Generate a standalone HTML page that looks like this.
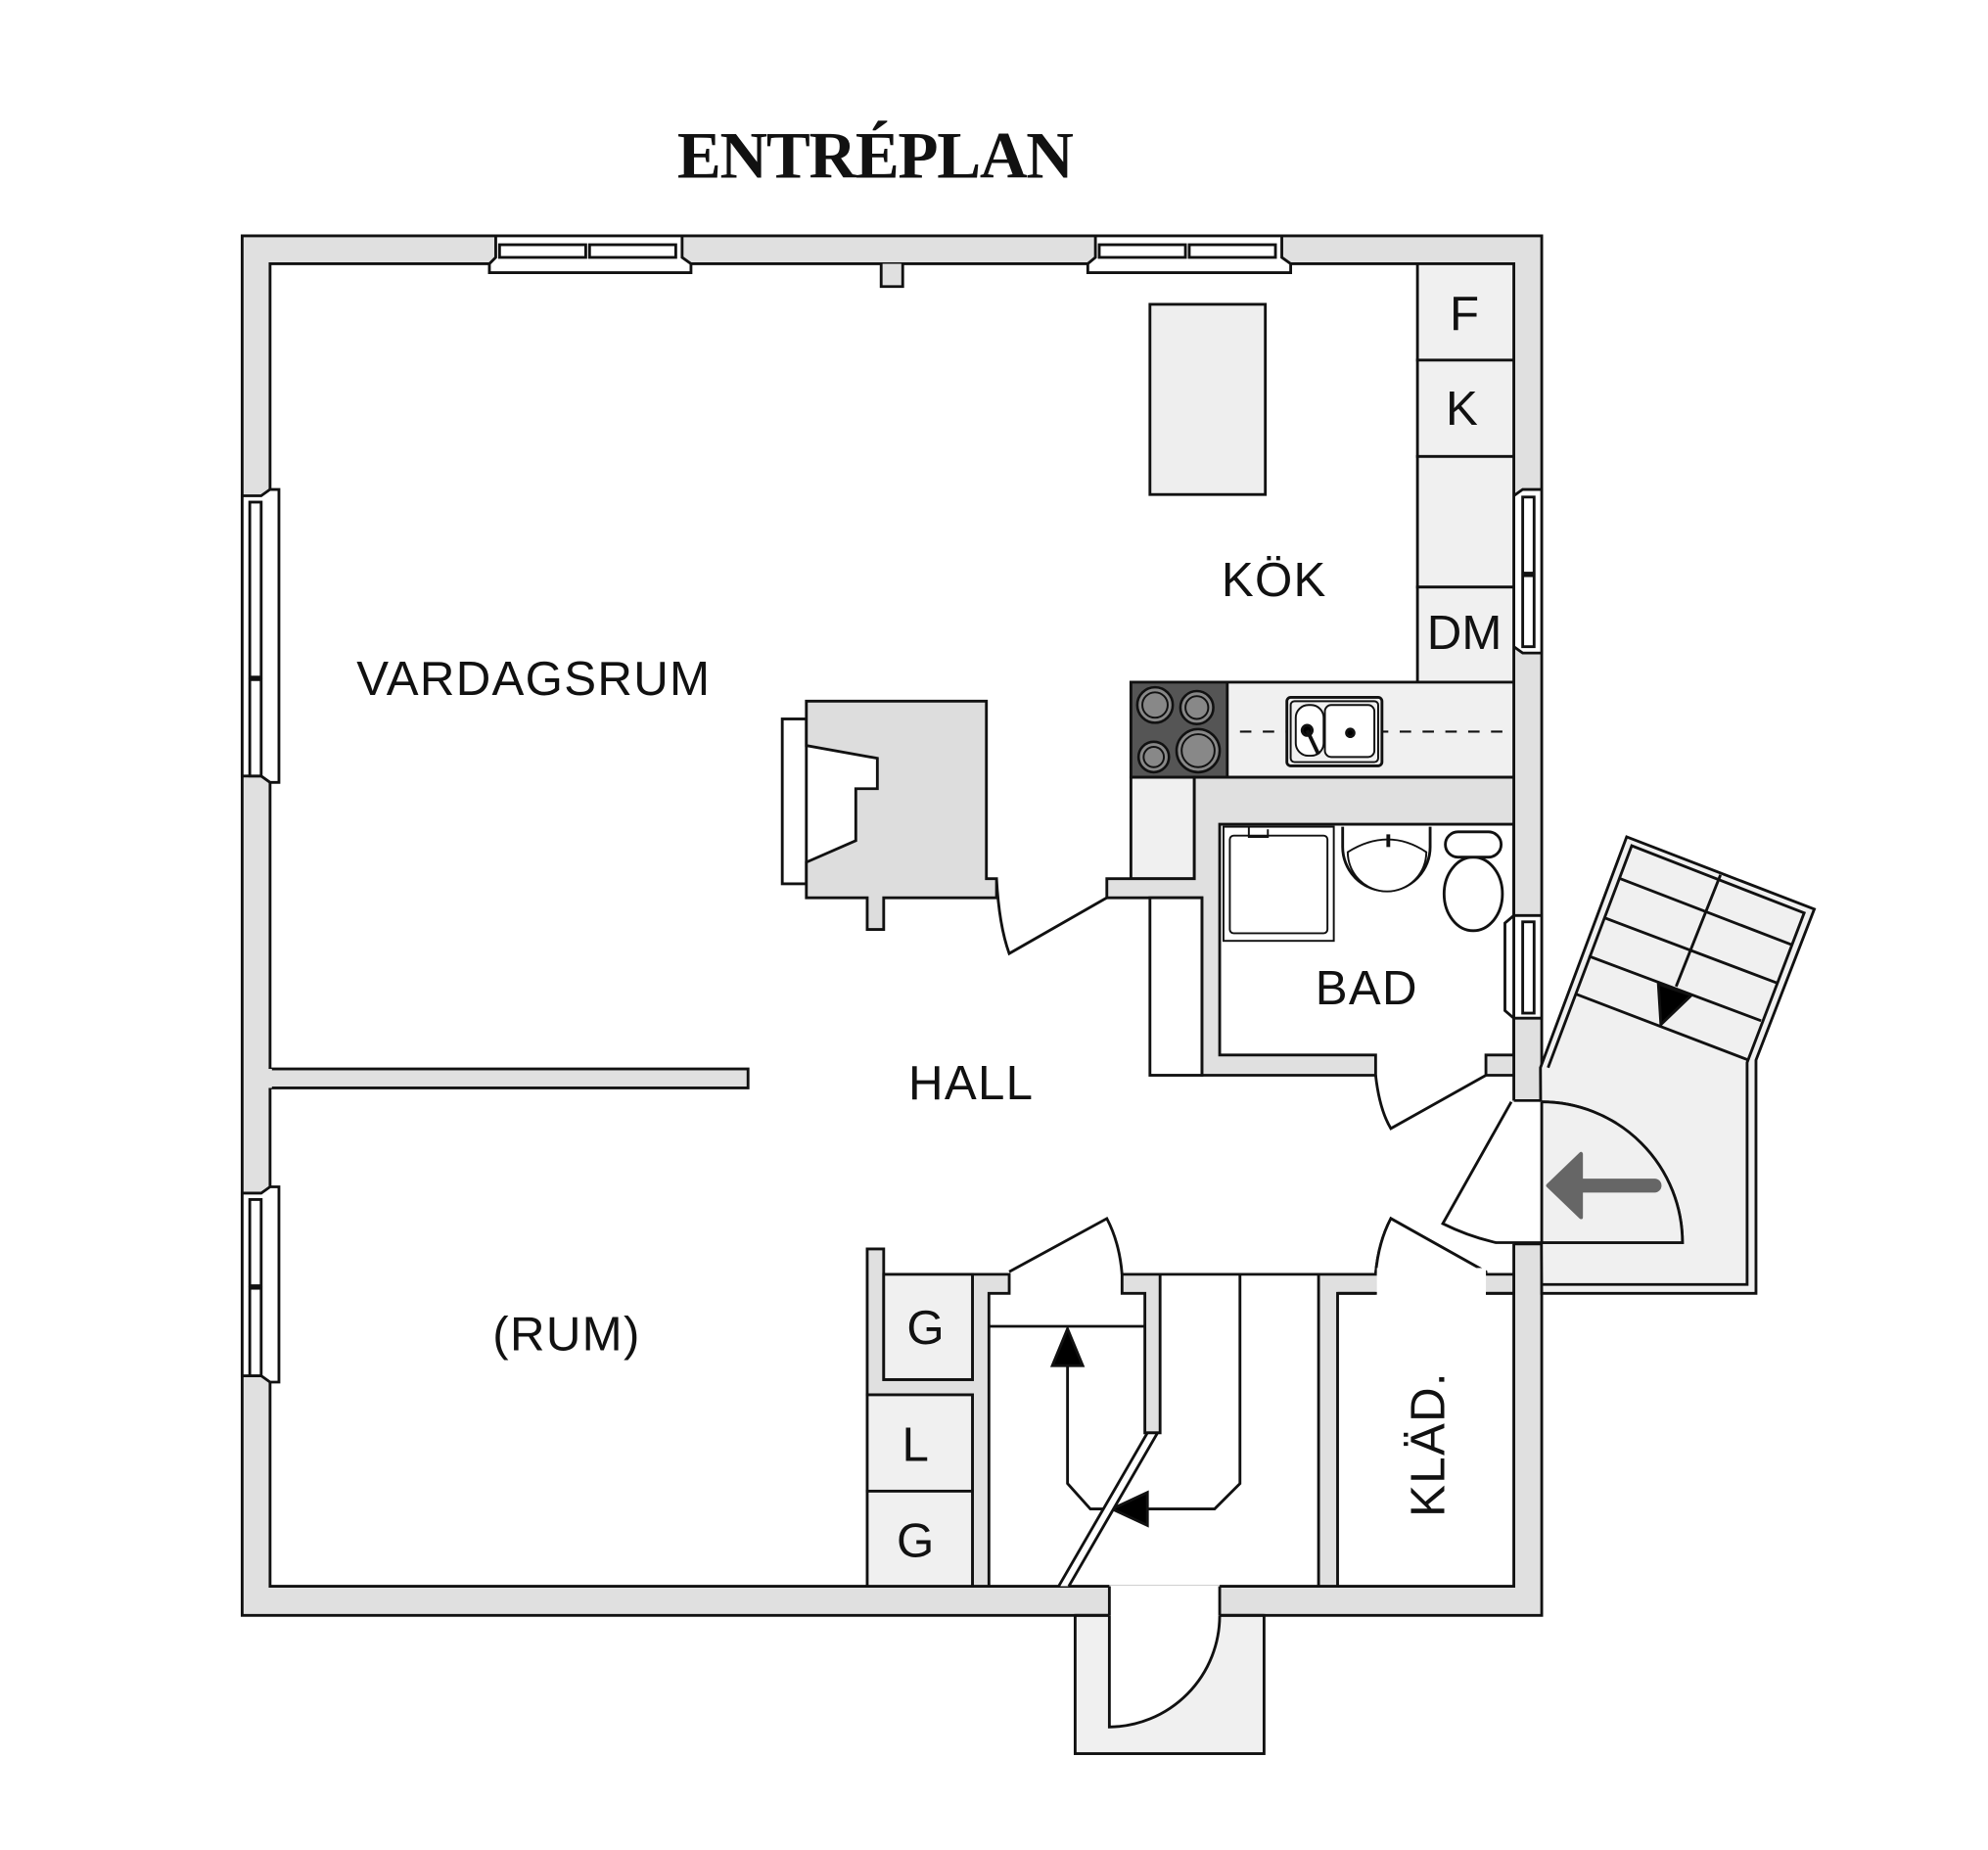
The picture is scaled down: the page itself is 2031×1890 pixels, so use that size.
<!DOCTYPE html>
<html><head><meta charset="utf-8"><style>
html,body{margin:0;padding:0;background:#fff}
svg{display:block}
text{font-family:"Liberation Sans",sans-serif;fill:#111}
</style></head><body>
<svg width="2031" height="1890" viewBox="0 0 1568 1459" preserveAspectRatio="none" xmlns="http://www.w3.org/2000/svg">
<g stroke="#111" stroke-width="2.2" stroke-linejoin="miter">
<path d="M191,186 H1216 V1274 H191 Z M213,208 V1251 H1194 V208 Z" fill="#e0e0e0" fill-rule="evenodd"/>
<g fill="#fff">
<path d="M391,186 H538 V203 L545,208 V215 H386 V208 L391,203 Z"/>
<rect x="394" y="193" width="68" height="10"/><rect x="465" y="193" width="68" height="10"/>
<path d="M864,186 H1011 V203 L1018,208 V215 H858 V208 L864,203 Z"/>
<rect x="867" y="193" width="68" height="10"/><rect x="938" y="193" width="68" height="10"/>
</g>
<path d="M695,208 V226 H712 V208" fill="#e0e0e0"/>
<g fill="#fff">
<path d="M191,391 H206 L213,386 H220 V617 H213 L206,612 H191 Z"/>
<rect x="197" y="396" width="9" height="138"/><rect x="197" y="536" width="9" height="76"/>
<path d="M191,941 H206 L213,936 H220 V1090 H213 L206,1085 H191 Z"/>
<rect x="197" y="946" width="9" height="68"/><rect x="197" y="1016" width="9" height="69"/>
</g>
<g fill="#fff">
<path d="M1216,386 V515 H1201 L1194,510 V391 L1201,386 Z"/>
<rect x="1201" y="392" width="9" height="60"/><rect x="1201" y="454" width="9" height="56"/>
<path d="M1216,722 V803 H1194 L1187,797 V728 L1194,722 Z"/>
<rect x="1201" y="727" width="9" height="72"/>
</g>
<rect x="1193" y="868" width="24" height="113" fill="#fff" stroke="none"/>
<line x1="1194" y1="868" x2="1216" y2="868"/><line x1="1194" y1="981" x2="1216" y2="981"/>
<!-- outside stair -->
<path d="M1215,842 L1283,660 L1431,717 L1385,836 V1020 H1216 Z" fill="#f0f0f0"/>
<path d="M1221,842 L1287,667 L1423,720 L1378,838 V1013 H1216" fill="none"/>
<g fill="none">
<line x1="1278" y1="693" x2="1413" y2="745"/>
<line x1="1266" y1="724" x2="1401" y2="775"/>
<line x1="1253" y1="754" x2="1389" y2="805"/>
<line x1="1243" y1="784" x2="1379" y2="836"/>
<line x1="1357" y1="690" x2="1322" y2="778"/>
</g>
<path d="M1308,776 L1334,785 L1310,808 Z" fill="#000"/>
<!-- entrance door -->
<path d="M1216,869 A111,111 0 0 1 1327,980 H1180 Q1158,975 1138,965 L1192,869" fill="#fff"/>
<path d="M1216,869 A111,111 0 0 1 1327,980 H1216" fill="#f0f0f0"/>
<line x1="1216" y1="869" x2="1216" y2="981"/>
<path d="M1305,935 H1245" stroke="#666" stroke-width="11" stroke-linecap="round" fill="none"/>
<path d="M1221,935 L1247,910 V960 Z" fill="#666" stroke="#666" stroke-linejoin="round" stroke-width="3"/>
<!-- fridge column -->
<g fill="#f0f0f0">
<rect x="1118" y="208" width="76" height="76"/><rect x="1118" y="284" width="76" height="76"/>
<rect x="1118" y="360" width="76" height="103"/><rect x="1118" y="463" width="76" height="75"/>
</g>
<rect x="907" y="240" width="91" height="150" fill="#eee"/>
<rect x="892" y="538" width="302" height="75" fill="#f0f0f0"/>
<rect x="892" y="538" width="76" height="75" fill="#555"/>
<g fill="#888" stroke="#111" stroke-width="2">
<circle cx="911" cy="556" r="14"/><circle cx="944" cy="558" r="13"/>
<circle cx="910" cy="597" r="12"/><circle cx="945" cy="592" r="17"/>
</g>
<g fill="none" stroke="#111" stroke-width="1.5">
<circle cx="911" cy="556" r="10"/><circle cx="944" cy="558" r="9"/>
<circle cx="910" cy="597" r="8"/><circle cx="945" cy="592" r="13"/>
</g>
<line x1="978" y1="577" x2="1194" y2="577" stroke-dasharray="9,9" stroke-width="1.6"/>
<rect x="1015" y="550" width="75" height="54" rx="3" fill="#f0f0f0"/>
<rect x="1018" y="553" width="69" height="48" rx="3" fill="none" stroke-width="1.5"/>
<rect x="1022" y="556" width="22" height="40" rx="10" fill="#fff" stroke-width="1.5"/>
<rect x="1045" y="556" width="39" height="41" rx="5" fill="#fff" stroke-width="1.5"/>
<circle cx="1065" cy="578" r="3"/><circle cx="1031" cy="576" r="4"/>
<line x1="1031" y1="576" x2="1040" y2="595" stroke-width="3"/>
<rect x="892" y="613" width="50" height="80" fill="#f0f0f0"/>
<path d="M942,613 H1194 V848 H1172 V832 H1194 V650 H962 V832 H1085 V848 H948 V708 H873 V693 H942 Z" fill="#e0e0e0"/>
<rect x="907" y="708" width="41" height="140" fill="#fff"/>
<rect x="965" y="652" width="87" height="90" fill="#fff" stroke-width="1.5"/>
<rect x="970" y="659" width="77" height="77" rx="3" fill="#fff" stroke-width="1.5"/>
<path d="M985,652 v8 h15 v-6" fill="none" stroke-width="1.5"/>
<path d="M1059,652 V668 A34,34 0 0 0 1128,668 V652" fill="#fff"/>
<path d="M1063,672 A30,30 0 0 0 1125,672 Q1095,652 1063,672 Z" fill="#fff" stroke-width="1.5"/>
<line x1="1095" y1="658" x2="1095" y2="668" stroke-width="3"/>
<ellipse cx="1162" cy="705" rx="23" ry="29" fill="#fff"/>
<rect x="1140" y="656" width="44" height="20" rx="10" fill="#fff"/>
<path d="M786,693 Q788,730 796,752 L873,708" fill="none"/>
<path d="M1085,848 Q1088,875 1097,890 L1172,848" fill="none"/>
<!-- fireplace -->
<rect x="617" y="567" width="19" height="130" fill="#fff"/>
<path d="M636,553 H778 V693 H786 V708 H697 V733 H684 V708 H636 V680 L675,663 V622 H692 V598 L636,588 Z" fill="#ddd"/>
<rect x="213" y="843" width="377" height="15" fill="#e0e0e0"/>
<line x1="213" y1="843" x2="213" y2="858" stroke="#e0e0e0" stroke-width="3"/>
<path d="M684,985 H697 V1088 H767 V1005 H796 V1020 H780 V1251 H767 V1100 H684 Z" fill="#e0e0e0"/>
<g fill="#f0f0f0">
<rect x="697" y="1005" width="70" height="83"/>
<rect x="684" y="1100" width="83" height="76"/>
<rect x="684" y="1176" width="83" height="75"/>
</g>
<path d="M796,1003 L873,961 Q883,980 885,1005" fill="none"/>
<path d="M885,1005 H915 V1130 H903 V1020 H885 Z" fill="#e0e0e0"/>
<line x1="780" y1="1046" x2="903" y2="1046"/>
<line x1="915" y1="1005" x2="1040" y2="1005"/>
<path d="M978,1005 V1170 L958,1190 H905" fill="none"/>
<path d="M842,1075 V1170 L860,1190 H870" fill="none"/>
<path d="M842,1048 L830,1077 H854 Z" fill="#000"/>
<path d="M877,1190 L905,1177 V1203 Z" fill="#000"/>
<path d="M835,1251 L905,1130 H913 L843,1251" fill="#fff"/>
<path d="M1040,1005 H1085 Q1087,980 1097,961 L1172,1003 V1005 H1194 V1020 H1172 V1020 H1055 V1251 H1040 Z" fill="#e0e0e0"/>
<path d="M1085,1005 Q1087,980 1097,961 L1172,1003" fill="#fff"/>
<rect x="1086" y="1000" width="86" height="22" fill="#fff" stroke="none"/>
<line x1="1172" y1="1020" x2="1194" y2="1020"/>
<line x1="1055" y1="1020" x2="1085" y2="1020"/>
<rect x="848" y="1274" width="149" height="109" fill="#f0f0f0"/>
<rect x="875" y="1250" width="87" height="25" fill="#fff" stroke="none"/>
<line x1="875" y1="1251" x2="875" y2="1274"/><line x1="962" y1="1251" x2="962" y2="1274"/>
<line x1="848" y1="1274" x2="875" y2="1274"/><line x1="962" y1="1274" x2="997" y2="1274"/>
<path d="M875,1274 V1362 A88,88 0 0 0 962,1274" fill="#fff"/>
</g>
<text x="690" y="140" text-anchor="middle" style="font-family:'Liberation Serif',serif;font-weight:bold;font-size:52px;letter-spacing:-1px">ENTRÉPLAN</text>
<g font-size="38" text-anchor="middle">
<text x="421" y="548" letter-spacing="1">VARDAGSRUM</text>
<text x="1005" y="470" letter-spacing="1">KÖK</text>
<text x="766" y="867" letter-spacing="1">HALL</text>
<text x="1078" y="792" letter-spacing="1">BAD</text>
<text x="447" y="1065" letter-spacing="1">(RUM)</text>
<text x="1155" y="260">F</text>
<text x="1153" y="335">K</text>
<text x="1155" y="512">DM</text>
<text x="730" y="1060">G</text>
<text x="722" y="1152">L</text>
<text x="722" y="1228">G</text>
<text transform="translate(1139,1139) rotate(-90)" letter-spacing="1">KLÄD.</text>
</g>
</svg>
</body></html>
